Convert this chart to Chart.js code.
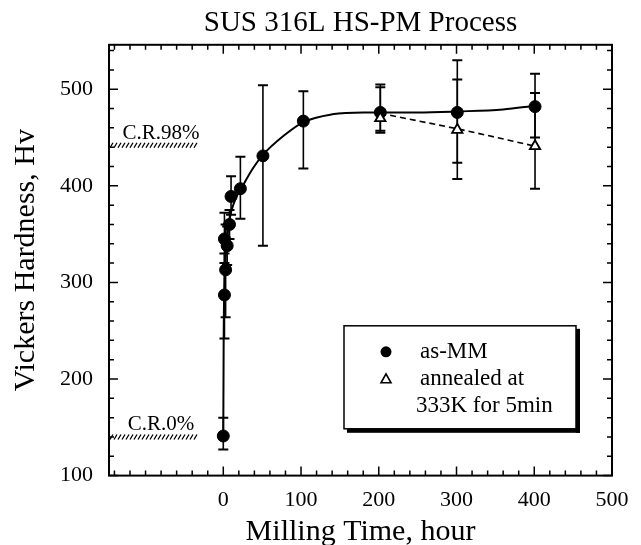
<!DOCTYPE html>
<html><head><meta charset="utf-8">
<script src="https://cdn.jsdelivr.net/npm/chart.js@4.4.1/dist/chart.umd.min.js"></script>
<style>html,body{margin:0;padding:0;background:#fff}#wrap{width:641px;height:545px}</style>
</head><body><div id="wrap"><canvas id="c" width="641" height="545"></canvas></div>
<script>
const FONT = '"Liberation Serif", "Times New Roman", serif';

// as-MM (filled circles)
const mmTime    = [0,   1.5, 3,   1.5, 5,   8,   10,  22,  51,  103, 202, 301, 401];
const mmHv      = [141, 287, 313, 345, 338, 360, 389, 397, 431, 467, 476, 476, 482];
const mmErrLow  = [127, 242, 264, 320, 318, 345, 370, 366, 338, 418, 455, 424, 450];
const mmErrHigh = [160, 330, 360, 372, 358, 375, 410, 430, 504, 498, 502, 530, 516];

// annealed at 333K for 5min (open triangles)
const anTime    = [202, 301, 401];
const anHv      = [470, 458, 441];
const anErrLow  = [457, 407, 397];
const anErrHigh = [505, 510, 496];

// fitted curves
const solidX = [0,   0.5, 1.5, 4,   8,   15,  25,  38,  51,  78,  103, 140, 180, 250, 301, 360, 401];
const solidY = [141, 240, 300, 335, 365, 385, 400, 418, 432, 452, 466, 474, 476, 476, 477, 479, 483];
const dashX  = [202, 252, 301, 352, 401];
const dashY  = [475, 467, 459, 450, 441];

// compression-ratio reference bands
const crLabels = ['C.R.98%', 'C.R.0%'];
const crHv     = [442, 140];

// axes
const xMajorTicks = [0, 100, 200, 300, 400, 500];
const yMajorTicks = [100, 200, 300, 400, 500];
const minorStep = 20;
const xRange = [-147, 500];
const yRange = [100, 546];

const legendLabels = ['as-MM', 'annealed at', '333K for 5min'];

function pts(xs, ys){ return xs.map((x,i)=>({x:x, y:ys[i]})); }

const overlay = {
  id: 'overlay',
  beforeDatasetsDraw(chart){
    const {ctx, scales:{x, y}} = chart;
    ctx.save();
    ctx.strokeStyle = '#000';
    const bars = [[mmTime, mmErrLow, mmErrHigh], [anTime, anErrLow, anErrHigh]];
    bars.forEach(([ts, lo, hi])=>{
      ts.forEach((t,i)=>{
        const px = x.getPixelForValue(t);
        const y1 = y.getPixelForValue(lo[i]);
        const y2 = y.getPixelForValue(hi[i]);
        ctx.lineWidth = 1.6;
        ctx.beginPath(); ctx.moveTo(px, y1); ctx.lineTo(px, y2); ctx.stroke();
        ctx.lineWidth = 2;
        ctx.beginPath();
        ctx.moveTo(px-5, y1); ctx.lineTo(px+5, y1);
        ctx.moveTo(px-5, y2); ctx.lineTo(px+5, y2);
        ctx.stroke();
      });
    });
    // hatched C.R. bands
    crHv.forEach((h,i)=>{
      const x0 = x.getPixelForValue(xRange[0]) + 1;
      const x1 = x.getPixelForValue(-30);
      const py = y.getPixelForValue(h);
      ctx.lineWidth = 1.3;
      ctx.beginPath();
      for (let px = x0; px < x1 - 2; px += 4) {
        ctx.moveTo(px, py + 2.5); ctx.lineTo(px + 3, py - 2.5);
      }
      ctx.stroke();
      ctx.fillStyle = '#000';
      ctx.font = '21px ' + FONT;
      ctx.textAlign = 'center';
      ctx.textBaseline = 'middle';
      ctx.fillText(crLabels[i], x.getPixelForValue(-80), py - 12);
    });
    ctx.restore();
  },
  afterDatasetsDraw(chart){
    const {ctx, chartArea:a, scales:{x, y}} = chart;
    ctx.save();
    ctx.strokeStyle = '#000';
    ctx.lineWidth = 2;
    ctx.strokeRect(a.left, a.top, a.right - a.left, a.bottom - a.top);
    ctx.lineWidth = 1.5;
    ctx.beginPath();
    for (let v = -140; v <= xRange[1]; v += minorStep) {
      const px = x.getPixelForValue(v);
      const len = xMajorTicks.includes(v) ? 9 : 5;
      ctx.moveTo(px, a.bottom); ctx.lineTo(px, a.bottom - len);
      ctx.moveTo(px, a.top); ctx.lineTo(px, a.top + len);
    }
    for (let v = yRange[0]; v <= yRange[1]; v += minorStep) {
      const py = y.getPixelForValue(v);
      const len = yMajorTicks.includes(v) ? 9 : 5;
      ctx.moveTo(a.left, py); ctx.lineTo(a.left + len, py);
      ctx.moveTo(a.right, py); ctx.lineTo(a.right - len, py);
    }
    ctx.stroke();

    // legend box
    const L = a.left + 235, T = a.top + 281, W = 232, H = 103;
    ctx.fillStyle = '#fff';
    ctx.fillRect(L, T, W, H);
    ctx.lineWidth = 1.5;
    ctx.strokeRect(L, T, W, H);
    ctx.fillStyle = '#000';
    ctx.fillRect(L + W, T + 3, 4, H + 1);
    ctx.fillRect(L + 3, T + H, W + 1, 4);
    // markers
    ctx.beginPath(); ctx.arc(L + 42, T + 26, 5.5, 0, Math.PI*2); ctx.fill();
    ctx.lineWidth = 1.6;
    ctx.beginPath();
    const tx = L + 42, ty = T + 53;
    ctx.moveTo(tx, ty - 5); ctx.lineTo(tx + 5, ty + 4); ctx.lineTo(tx - 5, ty + 4); ctx.closePath();
    ctx.stroke();
    ctx.font = '23px ' + FONT;
    ctx.textAlign = 'left';
    ctx.textBaseline = 'middle';
    ctx.fillText(legendLabels[0], L + 76, T + 26);
    ctx.fillText(legendLabels[1], L + 76, T + 53);
    ctx.fillText(legendLabels[2], L + 72, T + 80);
    ctx.restore();
  }
};

new Chart(document.getElementById('c'), {
  type: 'scatter',
  data: {
    datasets: [
      { label: 'fit as-MM', data: pts(solidX, solidY), showLine: true, borderColor: '#000', borderWidth: 2,
        pointRadius: 0, cubicInterpolationMode: 'monotone', order: 3 },
      { label: 'fit annealed', data: pts(dashX, dashY), showLine: true, borderColor: '#000', borderWidth: 1.6,
        borderDash: [6, 4], pointRadius: 0, cubicInterpolationMode: 'monotone', order: 2 },
      { label: 'as-MM', data: pts(mmTime, mmHv), showLine: false, pointRadius: 6, pointHoverRadius: 6,
        backgroundColor: '#000', borderColor: '#000', order: 1 },
      { label: 'annealed', data: pts(anTime, anHv), showLine: false, pointStyle: 'triangle', pointRadius: 6,
        pointHoverRadius: 6, backgroundColor: '#fff', borderColor: '#000', borderWidth: 1.8, order: 0 }
    ]
  },
  options: {
    responsive: false,
    animation: false,
    devicePixelRatio: 1,
    layout: { padding: { left: 8, right: 29, top: 0, bottom: -2 } },
    plugins: {
      legend: { display: false },
      tooltip: { enabled: false },
      title: { display: true, fullSize: false, text: 'SUS 316L HS-PM Process', color: '#000',
        font: { family: FONT, size: 29, weight: 'normal' }, padding: { top: 6, bottom: 4 } }
    },
    scales: {
      x: {
        type: 'linear', min: xRange[0], max: xRange[1],
        afterBuildTicks: s => { const t = []; for (let v = -140; v <= xRange[1]; v += minorStep) t.push({value: v}); s.ticks = t; },
        ticks: { callback: v => xMajorTicks.includes(v) ? String(v) : '', autoSkip: false, maxRotation: 0,
          color: '#000', font: { family: FONT, size: 22 }, padding: 11 },
        grid: { display: false, drawTicks: false },
        border: { display: false },
        title: { display: true, text: 'Milling Time, hour', color: '#000',
          font: { family: FONT, size: 30, lineHeight: 1.0 }, padding: { top: -7, bottom: 0 } }
      },
      y: {
        type: 'linear', min: yRange[0], max: yRange[1],
        afterBuildTicks: s => { const t = []; for (let v = yRange[0]; v <= yRange[1]; v += minorStep) t.push({value: v}); s.ticks = t; },
        ticks: { callback: v => yMajorTicks.includes(v) ? String(v) : '', autoSkip: false,
          color: '#000', font: { family: FONT, size: 22 }, padding: 16 },
        grid: { display: false, drawTicks: false },
        border: { display: false },
        title: { display: true, text: 'Vickers Hardness, Hv', color: '#000',
          font: { family: FONT, size: 30 }, padding: { top: 0, bottom: 0 } }
      }
    }
  },
  plugins: [overlay]
});
</script></body></html>
